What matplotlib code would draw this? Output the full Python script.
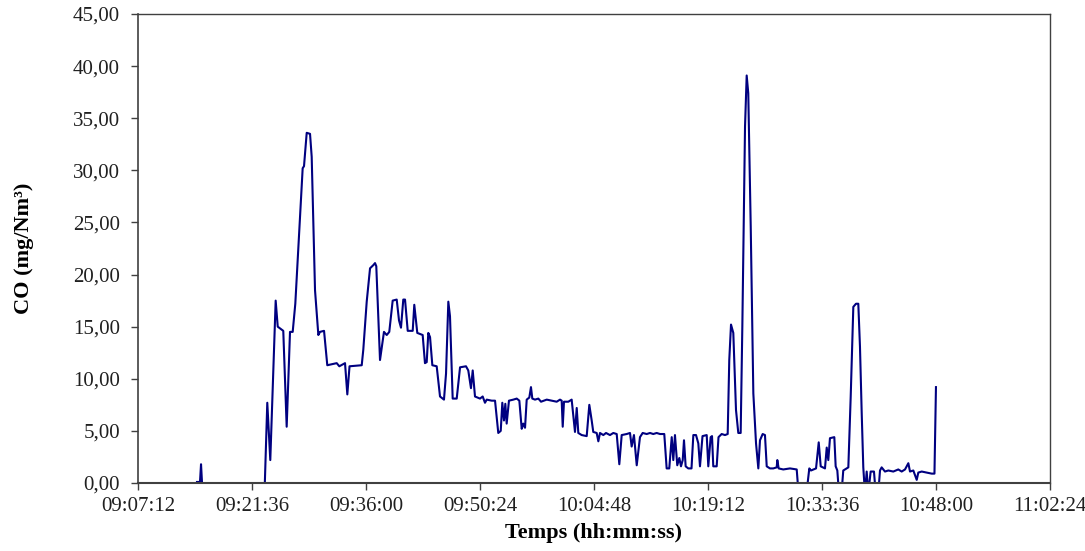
import matplotlib
matplotlib.use('Agg')
import matplotlib.pyplot as plt
from matplotlib.ticker import FixedLocator, FuncFormatter

# Time in minutes after 09:00:00, CO concentration in mg/Nm3
# (values below 0 fall outside the axis and are clipped, like in the original sheet)
minutes = [
    14.65, 15.03, 15.16, 15.28, 15.54, 22.86, 23.18, 23.53, 23.91, 24.59,
    24.85, 25.55, 25.98, 26.40, 26.74, 27.07, 28.00, 28.17, 28.51, 28.93,
    29.14, 29.56, 29.98, 30.19, 30.70, 31.11, 32.30, 32.63, 33.35, 33.64,
    33.92, 35.46, 35.66, 36.09, 36.51, 36.92, 37.14, 37.30, 37.77, 38.27,
    38.62, 38.94, 39.37, 39.88, 40.17, 40.42, 40.71, 40.93, 41.27, 41.90,
    42.10, 42.48, 43.16, 43.45, 43.67, 43.87, 44.09, 44.38, 44.93, 45.35,
    45.85, 46.11, 46.40, 46.61, 46.95, 47.46, 47.88, 48.63, 48.92, 49.26,
    49.48, 49.77, 50.40, 50.74, 51.03, 51.25, 51.88, 52.30, 52.71, 53.02,
    53.22, 53.43, 53.60, 53.77, 54.06, 54.61, 55.04, 55.37, 55.67, 55.87,
    56.09, 56.30, 56.63, 56.84, 57.01, 57.35, 57.77, 58.11, 58.83, 59.46,
    60.09, 60.51, 60.72, 60.85, 61.01, 61.56, 61.98, 62.40, 62.62, 62.82,
    63.25, 63.88, 64.21, 64.51, 64.71, 65.14, 65.35, 65.56, 65.98, 66.32,
    66.82, 67.24, 67.67, 68.00, 68.30, 68.93, 69.35, 69.56, 69.85, 70.20,
    70.61, 70.95, 71.46, 71.88, 72.29, 72.72, 73.14, 73.68, 73.98, 74.31,
    74.62, 74.82, 75.03, 75.32, 75.58, 75.79, 76.01, 76.17, 76.38, 76.71,
    77.12, 77.35, 77.69, 77.98, 78.19, 78.51, 79.04, 79.24, 79.54, 79.71,
    79.87, 80.30, 80.53, 80.93, 81.35, 81.69, 81.89, 82.11, 82.40, 82.74,
    83.03, 83.33, 83.54, 83.88, 84.09, 84.29, 84.60, 84.93, 85.27, 85.56,
    85.77, 86.11, 86.40, 86.62, 87.03, 87.45, 87.88, 87.96, 88.13, 88.71,
    89.56, 90.41, 90.64, 91.64, 92.00, 92.21, 92.85, 93.19, 93.44, 93.98,
    94.20, 94.40, 94.61, 95.16, 95.33, 95.54, 95.75, 96.07, 96.29, 96.93,
    97.23, 97.56, 97.90, 98.19, 98.40, 98.62, 98.82, 99.03, 99.25, 99.45,
    99.75, 100.17, 100.39, 100.71, 100.93, 101.14, 101.56, 101.98, 102.61, 103.24,
    103.67, 104.09, 104.51, 104.72, 105.14, 105.57, 105.77, 106.20, 106.83, 107.46,
    107.81, 108.00,
]
co = [
    0.1, 0.1, 1.8, 0.1, -1.0, -1.0, -1.0, 7.7, 2.2, 17.5,
    15.0, 14.6, 5.4, 14.5, 14.5, 17.2, 30.2, 30.4, 33.6, 33.5,
    31.3, 18.5, 14.2, 14.5, 14.6, 11.3, 11.5, 11.2, 11.5, 8.5,
    11.2, 11.3, 12.8, 17.4, 20.6, 20.9, 21.1, 20.8, 11.8, 14.5,
    14.2, 14.5, 17.5, 17.6, 15.6, 14.9, 17.6, 17.6, 14.6, 14.6,
    17.1, 14.4, 14.2, 11.5, 11.6, 14.4, 14.0, 11.3, 11.2, 8.3,
    8.0, 10.5, 17.4, 16.0, 8.1, 8.1, 11.1, 11.2, 10.8, 9.1,
    10.8, 8.3, 8.1, 8.3, 7.7, 8.0, 7.9, 7.9, 4.8, 5.0,
    7.7, 6.0, 7.6, 5.7, 7.9, 8.0, 8.1, 7.9, 5.2, 5.7,
    5.3, 8.0, 8.2, 9.2, 8.1, 8.0, 8.1, 7.8, 8.0, 7.9,
    7.8, 8.0, 7.9, 5.4, 7.8, 7.8, 8.0, 4.9, 7.2, 4.8,
    4.6, 4.5, 7.5, 6.0, 4.9, 4.8, 4.0, 4.8, 4.6, 4.8,
    4.6, 4.8, 4.7, 1.8, 4.6, 4.7, 4.8, 3.5, 4.6, 1.7,
    4.4, 4.8, 4.7, 4.8, 4.7, 4.8, 4.7, 4.7, 1.4, 1.4,
    4.4, 2.2, 4.6, 1.7, 2.4, 1.6, 2.2, 4.1, 1.6, 1.4,
    1.4, 4.6, 4.6, 3.8, 1.6, 4.5, 4.6, 1.6, 4.4, 4.5,
    1.6, 1.6, 4.4, 4.7, 4.6, 4.7, 11.8, 15.2, 14.4, 7.0,
    4.8, 4.8, 15.0, 34.2, 39.1, 37.4, 24.6, 8.6, 3.8, 1.4,
    4.1, 4.7, 4.6, 1.6, 1.4, 1.4, 1.5, 2.2, 1.4, 1.3,
    1.4, 1.3, -1.0, -1.0, 1.4, 1.2, 1.4, 3.9, 1.6, 1.4,
    3.4, 2.2, 4.3, 4.4, 1.6, 1.2, -1.0, -1.0, 1.2, 1.5,
    8.3, 16.9, 17.2, 17.2, 13.1, 6.7, 1.5, -1.0, 1.1, -1.0,
    1.1, 1.1, -1.0, -1.0, 1.2, 1.5, 1.1, 1.2, 1.1, 1.3,
    1.1, 1.3, 1.9, 1.1, 1.2, 0.3, 1.0, 1.1, 1.0, 0.9,
    0.9, 9.2,
]

x_ticks = [7.2 + 14.4 * k for k in range(9)]   # 09:07:12 ... 11:02:24
y_ticks = [0, 5, 10, 15, 20, 25, 30, 35, 40, 45]

plt.rcParams['font.family'] = ['Liberation Serif', 'DejaVu Serif']

fig = plt.figure(figsize=(10.85, 5.51), dpi=100)
ax = fig.add_axes([0.1272, 0.1234, 0.8405, 0.8512])

ax.plot(minutes, co, color='#000080', linewidth=1.5)

ax.set_xlim(x_ticks[0], x_ticks[-1])
ax.set_ylim(0, 45)


def fmt_time(m, pos):
    s = int(round(m * 60)) + 9 * 3600
    return '%02d:%02d:%02d' % (s // 3600, (s % 3600) // 60, s % 60)


ax.xaxis.set_major_locator(FixedLocator(x_ticks))
ax.xaxis.set_major_formatter(FuncFormatter(fmt_time))
ax.yaxis.set_major_locator(FixedLocator(y_ticks))
ax.yaxis.set_major_formatter(FuncFormatter(lambda v, p: ('%.2f' % v).replace('.', ',')))

for s in ax.spines.values():
    s.set_color('#404040')
    s.set_linewidth(1.0)
ax.spines['bottom'].set_linewidth(1.5)
ax.spines['left'].set_linewidth(1.2)

ax.tick_params(axis='both', direction='out', length=5, width=1, color='#404040',
               labelsize=15, labelcolor='#202020')
ax.tick_params(axis='y', pad=8)
ax.tick_params(axis='x', pad=5)

ax.set_xlabel('Temps (hh:mm:ss)', fontsize=16, fontweight='bold', labelpad=5)
ax.set_ylabel('CO (mg/Nm³)', fontsize=16, fontweight='bold', labelpad=28)

fig.savefig('out.png', dpi=100)
